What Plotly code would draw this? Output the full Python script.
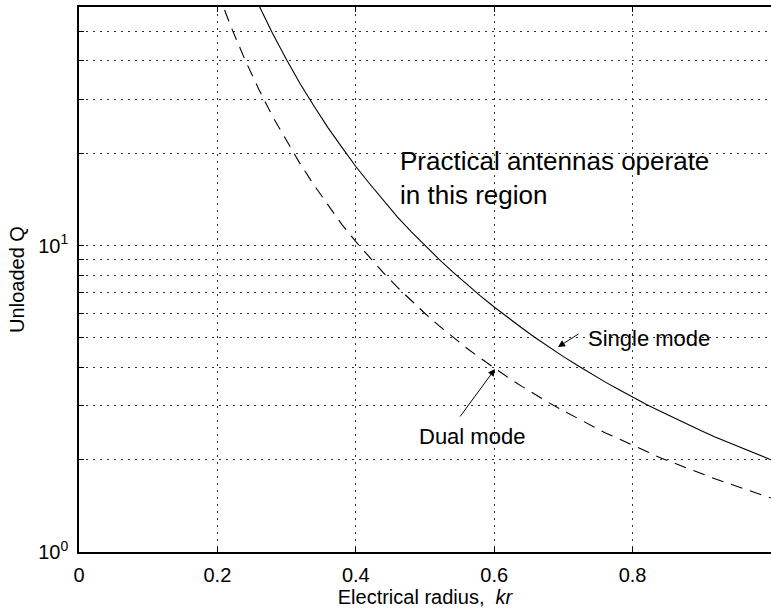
import math
import plotly.graph_objects as go

# Electrical radius kr
kr_single = [0.26, 0.28, 0.30, 0.32, 0.34, 0.36, 0.38, 0.40, 0.42, 0.44, 0.46, 0.48,
             0.50, 0.52, 0.54, 0.56, 0.58, 0.60, 0.62, 0.64, 0.66, 0.68, 0.70, 0.72,
             0.74, 0.76, 0.78, 0.80, 0.82, 0.84, 0.86, 0.88, 0.90, 0.92, 0.94, 0.96,
             0.98, 1.00]
q_single = [60.7, 49.1, 40.4, 33.6, 28.4, 24.2, 20.9, 18.1, 15.9, 14.0, 12.4, 11.1,
            10.0, 9.03, 8.20, 7.48, 6.85, 6.30, 5.81, 5.38, 4.99, 4.65, 4.34, 4.07,
            3.82, 3.59, 3.39, 3.20, 3.03, 2.88, 2.74, 2.60, 2.48, 2.37, 2.27, 2.17,
            2.08, 2.00]

kr_dual = [0.20, 0.22, 0.24, 0.26, 0.28, 0.30, 0.32, 0.34, 0.36, 0.38, 0.40, 0.42,
           0.44, 0.46, 0.48, 0.50, 0.52, 0.54, 0.56, 0.58, 0.60, 0.62, 0.64, 0.66,
           0.68, 0.70, 0.72, 0.74, 0.76, 0.78, 0.80, 0.82, 0.84, 0.86, 0.88, 0.90,
           0.92, 0.94, 0.96, 0.98, 1.00]
q_dual = [67.5, 51.5, 40.3, 32.3, 26.3, 21.9, 18.4, 15.7, 13.5, 11.7, 10.3, 9.13,
          8.14, 7.31, 6.60, 6.00, 5.48, 5.03, 4.63, 4.29, 3.98, 3.71, 3.47, 3.25,
          3.06, 2.89, 2.73, 2.59, 2.45, 2.34, 2.23, 2.13, 2.03, 1.95, 1.87, 1.80,
          1.73, 1.67, 1.61, 1.55, 1.50]

x_ticks = [0, 0.2, 0.4, 0.6, 0.8, 1.0]
x_tick_text = ["0", "0.2", "0.4", "0.6", "0.8", "1"]
y_ticks = [1, 2, 3, 4, 5, 6, 7, 8, 9, 10, 20, 30, 40, 50]
y_tick_text = ["10<sup>0</sup>", " ", " ", " ", " ", " ", " ", " ", " ",
               "10<sup>1</sup>", " ", " ", " ", " "]
y_max = 60

FONT = "Liberation Sans, Arial, Helvetica, sans-serif"

fig = go.Figure()
fig.add_trace(go.Scatter(x=kr_single, y=q_single, mode="lines",
                         line=dict(color="black", width=1.1), showlegend=False))
fig.add_trace(go.Scatter(x=kr_dual, y=q_dual, mode="lines",
                         line=dict(color="black", width=1.1, dash="12px,8px"),
                         showlegend=False))

W, H = 771, 613
L, R, T, B = 79, 0, 7, 61
pw, ph = W - L - R, H - T - B


def px(xp):
    return (xp - L) / pw


def py(yp):
    return (H - B - yp) / ph


ann = []
ann.append(dict(x=px(398), y=py(178), xref="paper", yref="paper",
                text="Practical antennas operate<br>in this region",
                showarrow=False, xanchor="left", yanchor="middle", align="left",
                font=dict(size=26, color="black", family=FONT)))
ann.append(dict(x=px(586), y=py(338), xref="paper", yref="paper",
                text="Single mode", showarrow=False, xanchor="left", yanchor="middle",
                font=dict(size=22, color="black", family=FONT)))
ann.append(dict(x=px(417), y=py(437), xref="paper", yref="paper",
                text="Dual mode", showarrow=False, xanchor="left", yanchor="middle",
                font=dict(size=22, color="black", family=FONT)))
ann.append(dict(x=px(558), y=py(347), xref="paper", yref="paper", text="",
                showarrow=True, ax=22, ay=-14, arrowhead=2, arrowsize=1.4,
                arrowwidth=1, arrowcolor="black"))
ann.append(dict(x=px(495), y=py(369), xref="paper", yref="paper", text="",
                showarrow=True, ax=-36, ay=49, arrowhead=2, arrowsize=1.4,
                arrowwidth=1, arrowcolor="black"))

fig.update_layout(
    width=W, height=H,
    margin=dict(l=L, r=R, t=T, b=B, pad=0, autoexpand=False),
    paper_bgcolor="white", plot_bgcolor="white",
    font=dict(family=FONT, color="black", size=20),
    annotations=ann,
    xaxis=dict(
        range=[0, 1], tickvals=x_ticks, ticktext=x_tick_text,
        showline=True, linecolor="black", linewidth=1.5, mirror="ticks",
        ticks="inside", ticklen=5, tickcolor="black", tickwidth=1,
        showgrid=True, gridcolor="#333333", gridwidth=1, griddash="2px,5px",
        zeroline=False, ticklabelstandoff=4, automargin=False,
        tickfont=dict(size=20, family=FONT),
        title=dict(text="Electrical radius,  <i>kr</i>", standoff=2,
                   font=dict(size=20, family=FONT)),
    ),
    yaxis=dict(
        type="log", range=[0, math.log10(y_max)],
        tickvals=y_ticks, ticktext=y_tick_text,
        showline=True, linecolor="black", linewidth=1.5, mirror=False,
        ticks="inside", ticklen=5, tickcolor="black", tickwidth=1,
        showgrid=True, gridcolor="#333333", gridwidth=1, griddash="2px,5px",
        zeroline=False, ticklabelstandoff=5, automargin=False,
        tickfont=dict(size=20, family=FONT),
        title=dict(text="Unloaded Q", standoff=8,
                   font=dict(size=20, family=FONT)),
    ),
)

fig.write_html("out.html", config={"displayModeBar": False},
               post_script="document.body.style.margin='0px';document.body.style.overflow='hidden';")
